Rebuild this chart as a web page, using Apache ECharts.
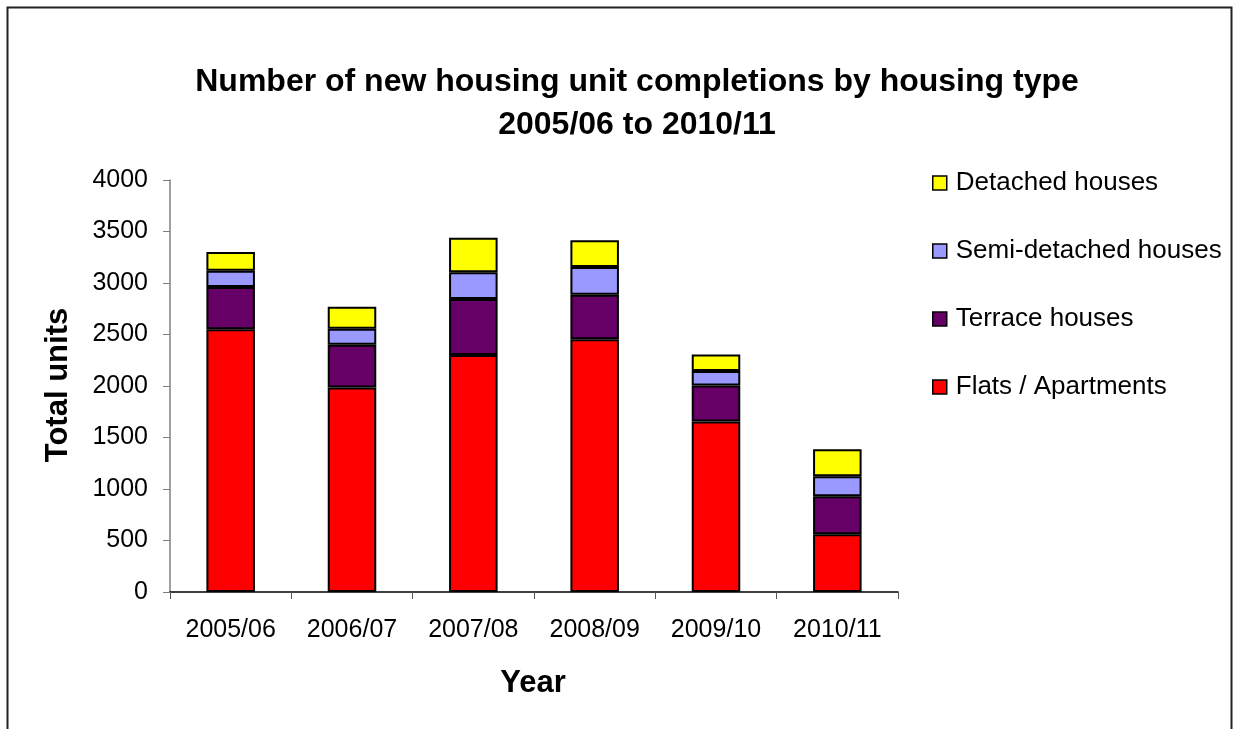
<!DOCTYPE html>
<html>
<head>
<meta charset="utf-8">
<script src="https://cdn.jsdelivr.net/npm/echarts@6/dist/echarts.min.js"></script>
<style>
  html, body { margin: 0; padding: 0; background: #fff; }
  #chart { width: 1235px; height: 729px; }
</style>
</head>
<body>
<div id="chart"></div>
<script>
// Housing completions by type, per financial year
const years = ['2005/06', '2006/07', '2007/08', '2008/09', '2009/10', '2010/11'];
const flats = [2550, 1985, 2300, 2455, 1655, 560];
const terrace = [410, 415, 545, 430, 350, 370];
const semiDetached = [160, 155, 260, 270, 140, 195];
const detached = [180, 215, 335, 260, 160, 260];
const yTicks = { min: 0, max: 4000, step: 500 };

const FONT = "'Liberation Sans', Arial, sans-serif";

function stackSeries(name, values, color) {
  return {
    name: name,
    type: 'bar',
    stack: 'total',
    barWidth: '40%',
    data: values,
    itemStyle: { color: color, borderColor: '#000', borderWidth: 2 },
    emphasis: { disabled: true }
  };
}

const chart = echarts.init(document.getElementById('chart'), null, { renderer: 'canvas' });
chart.setOption({
  animation: false,
  backgroundColor: '#fff',
  textStyle: { fontFamily: FONT },
  title: {
    text: 'Number of new housing unit completions by housing type\n2005/06 to 2010/11',
    left: 632,
    top: 56,
    textAlign: 'center',
    textStyle: { fontFamily: FONT, fontSize: 32, fontWeight: 'bold', color: '#000', lineHeight: 43 }
  },
  legend: {
    orient: 'vertical',
    left: 932,
    top: 170,
    padding: 0,
    itemWidth: 14,
    itemHeight: 14,
    itemGap: 42,
    icon: 'rect',
    itemStyle: { borderColor: '#000', borderWidth: 1.5 },
    textStyle: { fontFamily: FONT, fontSize: 26, color: '#000', lineHeight: 24, padding: [0, 0, 0, 4] },
    data: ['Detached houses', 'Semi-detached houses', 'Terrace houses', 'Flats / Apartments']
  },
  grid: { left: 170, right: 337, top: 180, bottom: 137, containLabel: false },
  xAxis: {
    type: 'category',
    data: years,
    axisLine: { lineStyle: { color: '#000', width: 1.5 } },
    axisTick: { show: true, interval: 0, length: 7, lineStyle: { color: '#555' } },
    axisLabel: { fontFamily: FONT, fontSize: 25, color: '#000', margin: 26, interval: 0, hideOverlap: false }
  },
  yAxis: {
    type: 'value',
    min: yTicks.min,
    max: yTicks.max,
    interval: yTicks.step,
    axisLine: { show: true, lineStyle: { color: '#808080', width: 1.5 } },
    axisTick: { show: true, length: 7, lineStyle: { color: '#808080' } },
    axisLabel: { fontFamily: FONT, fontSize: 25, color: '#000', margin: 22, formatter: v => String(v) },
    splitLine: { show: false }
  },
  graphic: [
    {
      type: 'rect',
      shape: { x: 7.5, y: 7.5, width: 1224, height: 740 },
      style: { fill: 'none', stroke: '#222', lineWidth: 2 },
      silent: true
    },
    {
      type: 'text',
      x: 58, y: 385,
      rotation: Math.PI / 2,
      style: { text: 'Total units', font: 'bold 31px ' + FONT, fill: '#000', textAlign: 'center', textVerticalAlign: 'middle' }
    },
    {
      type: 'text',
      x: 533, y: 683,
      style: { text: 'Year', font: 'bold 31px ' + FONT, fill: '#000', textAlign: 'center', textVerticalAlign: 'middle' }
    }
  ],
  series: [
    stackSeries('Flats / Apartments', flats, '#FF0000'),
    stackSeries('Terrace houses', terrace, '#660066'),
    stackSeries('Semi-detached houses', semiDetached, '#9999FF'),
    stackSeries('Detached houses', detached, '#FFFF00')
  ]
});
</script>
</body>
</html>
